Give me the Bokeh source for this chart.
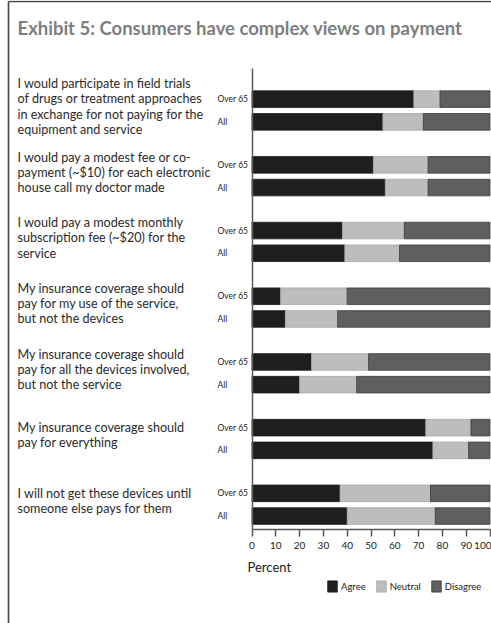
from bokeh.plotting import figure
from bokeh.models import ColumnDataSource, Range1d, LinearAxis, FixedTicker
from bokeh.core.properties import value
from bokeh.embed import file_html
from bokeh.resources import INLINE

# ---- data -------------------------------------------------------------
TITLE = "Exhibit 5: Consumers have complex views on payment"
QUESTIONS = [
    "I would participate in field trials\nof drugs or treatment approaches\nin exchange for not paying for the\nequipment and service",
    "I would pay a modest fee or co-\npayment (~$10) for each electronic\nhouse call my doctor made",
    "I would pay a modest monthly\nsubscription fee (~$20) for the\nservice",
    "My insurance coverage should\npay for my use of the service,\nbut not the devices",
    "My insurance coverage should\npay for all the devices involved,\nbut not the service",
    "My insurance coverage should\npay for everything",
    "I will not get these devices until\nsomeone else pays for them",
]
SEGMENTS = ["Over 65", "All"]

AGREE_OVER65 = [68, 51, 38, 12, 25, 73, 37]
NEUTRAL_OVER65 = [11, 23, 26, 28, 24, 19, 38]
DISAGREE_OVER65 = [21, 26, 36, 60, 51, 8, 25]

AGREE_ALL = [55, 56, 39, 14, 20, 76, 40]
NEUTRAL_ALL = [17, 18, 23, 22, 24, 15, 37]
DISAGREE_ALL = [28, 26, 38, 64, 56, 9, 23]

X_TICKS = [0, 10, 20, 30, 40, 50, 60, 70, 80, 90, 100]
X_LABEL = "Percent"
LEGEND_LABELS = ["Agree", "Neutral", "Disagree"]

# ---- layout (pixels) --------------------------------------------------
W, H = 491, 623
ZERO_PX, FULL_PX = 251.5, 489.5          # where 0 % and 100 % sit
PPU = (FULL_PX - ZERO_PX) / 100.0         # pixels per percent
FIRST_CENTER = 110.0                      # centre of the first question pair
GROUP_STEP = 65.7
PAIR_STEP = 22.7
BAR_H = 16.6
AXIS_Y = 529.0
AXIS_TOP = 68.0

COLORS = ["#1e1e1e", "#bdbdbd", "#5f5f5f"]
EDGES = ["#1a1a1a", "#a8a8a8", "#3c3c3c"]
FONT = "Lato"


def px_to_x(px):
    return (px - ZERO_PX) / PPU


# one row per bar, in drawing order
ys, agree, neutral, disagree, seg_labels = [], [], [], [], []
group_y = []
for i in range(len(QUESTIONS)):
    centre = FIRST_CENTER + i * GROUP_STEP
    group_y.append(centre - 4.0)
    for j, (a, n, d) in enumerate([
        (AGREE_OVER65[i], NEUTRAL_OVER65[i], DISAGREE_OVER65[i]),
        (AGREE_ALL[i], NEUTRAL_ALL[i], DISAGREE_ALL[i]),
    ]):
        ys.append(centre + (j - 0.5) * PAIR_STEP)
        agree.append(a)
        neutral.append(n)
        disagree.append(d)
        seg_labels.append(SEGMENTS[j])

bars = ColumnDataSource(dict(y=ys, Agree=agree, Neutral=neutral,
                             Disagree=disagree, seg=seg_labels))

p = figure(width=W, height=H, output_backend="svg", toolbar_location=None,
           x_range=Range1d(px_to_x(0), px_to_x(W)), y_range=Range1d(H, 0),
           x_axis_type=None, y_axis_type=None, min_border=0,
           outline_line_color=None, background_fill_color="white")

# page frame (left and top rules)
p.segment(x0=[px_to_x(8), px_to_x(8)], y0=[1, 1],
          x1=[px_to_x(8), px_to_x(W)], y1=[H, 1],
          line_color="#454545", line_width=1.6)

p.hbar_stack(LEGEND_LABELS, y="y", height=BAR_H, source=bars,
             fill_color=COLORS, line_color=EDGES, line_width=0.8,
             legend_label=LEGEND_LABELS)

# title
p.text(x=[px_to_x(17)], y=[27], text=[TITLE], text_font=value(FONT),
       text_font_style="bold", text_font_size=value("18.5px"),
       text_color="#7e7e7e", text_baseline="alphabetic", text_align="left")

# question texts
p.text(x=[px_to_x(17)] * len(QUESTIONS), y=group_y, text=QUESTIONS,
       text_font=value(FONT), text_font_size=value("12.6px"),
       text_color="#2b2b2b", text_baseline="middle", text_align="left",
       text_line_height=1.01)

# segment labels
p.text(x=px_to_x(217), y="y", text="seg", source=bars,
       text_font=value(FONT), text_font_size=value("8.5px"),
       text_color="#222222", text_baseline="middle", text_align="left")

# axis title
p.text(x=[px_to_x(247)], y=[566], text=[X_LABEL], text_font=value(FONT),
       text_font_size=value("13px"), text_color="#222222",
       text_baseline="middle", text_align="left")

# axes
xaxis = LinearAxis(fixed_location=AXIS_Y, bounds=(0, 100),
                   ticker=FixedTicker(ticks=X_TICKS))
xaxis.axis_line_color = "#5a5a5a"
xaxis.axis_line_width = 1.5
xaxis.major_tick_line_color = "#5a5a5a"
xaxis.major_tick_line_width = 1.5
xaxis.major_tick_in = 0
xaxis.major_tick_out = 7
xaxis.minor_tick_line_color = None
xaxis.major_label_standoff = 5
xaxis.major_label_text_font = FONT
xaxis.major_label_text_font_size = "10px"
xaxis.major_label_text_color = "#222222"
p.add_layout(xaxis, "below")

yaxis = LinearAxis(fixed_location=0, bounds=(AXIS_TOP, AXIS_Y),
                   ticker=FixedTicker(ticks=[]))
yaxis.axis_line_color = "#5a5a5a"
yaxis.axis_line_width = 1.5
yaxis.major_tick_line_color = None
yaxis.minor_tick_line_color = None
yaxis.major_label_text_font_size = "0px"
p.add_layout(yaxis, "left")

# legend
leg = p.legend[0]
leg.orientation = "horizontal"
leg.location = (326, H - 593)
leg.padding = 0
leg.margin = 0
leg.spacing = 9
leg.glyph_width = 12
leg.glyph_height = 14
leg.label_height = 14
leg.label_standoff = 3
leg.label_text_font = FONT
leg.label_text_font_size = "9.5px"
leg.label_text_color = "#222222"
leg.border_line_color = None
leg.background_fill_alpha = 0

open("out.html", "w").write(file_html(p, INLINE))
